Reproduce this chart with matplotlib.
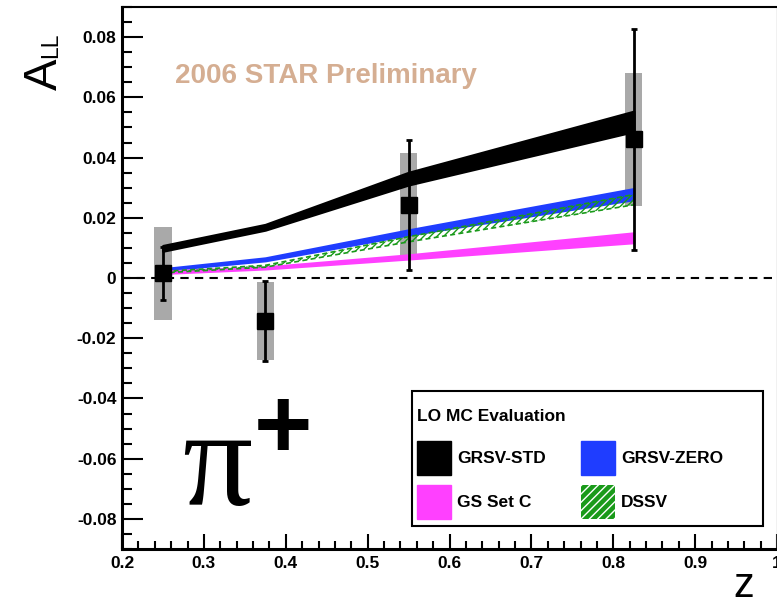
#!/usr/bin/ python
# -*- coding: utf-8 -*-

import matplotlib
matplotlib.use('Agg')
import matplotlib.pyplot as plt
import matplotlib.ticker as ticker
from matplotlib.patches import Patch, Rectangle

# measured points (pi+ A_LL vs z)
z = [0.25, 0.375, 0.55, 0.825]
a_ll = [0.0015, -0.0142, 0.0242, 0.046]
stat_err = [0.0088, 0.0133, 0.0217, 0.0367]
syst_err = [0.0155, 0.013, 0.0172, 0.022]

# LO MC evaluation bands (lower / upper edges at each z)
std_lo = [0.0090, 0.0160, 0.0310, 0.0487]
std_hi = [0.0107, 0.0177, 0.0350, 0.0553]
zero_lo = [0.0025, 0.0057, 0.0143, 0.0260]
zero_hi = [0.0031, 0.0067, 0.0160, 0.0297]
gsc_lo = [0.0015, 0.0030, 0.0063, 0.0117]
gsc_hi = [0.0023, 0.0037, 0.0077, 0.0150]
dssv_lo = [0.0017, 0.0036, 0.0120, 0.0243]
dssv_hi = [0.0022, 0.0042, 0.0137, 0.0277]

band_labels = ['GRSV-STD', 'GS Set C', 'GRSV-ZERO', 'DSSV']

plt.rcParams['font.family'] = ['Liberation Sans', 'DejaVu Sans']

fig = plt.figure(figsize=(7.77, 6.01), dpi=100)
ax = fig.add_axes([122 / 777, 1 - 549 / 601, 655 / 777, 542 / 601])

# systematic boxes
box_w = 0.021
ax.bar(z, [2 * s for s in syst_err], width=box_w,
       bottom=[a - s for a, s in zip(a_ll, syst_err)],
       color='#a9a9a9', linewidth=0, zorder=1)

# theory bands
ax.fill_between(z, std_lo, std_hi, color='black', linewidth=2, zorder=3)
ax.fill_between(z, zero_lo, zero_hi, color='#1f3dff', edgecolor='#1f3dff',
                linewidth=1.5, zorder=3)
ax.fill_between(z, gsc_lo, gsc_hi, color='#ff40ff', edgecolor='#ff40ff',
                linewidth=1.5, zorder=3)
ax.fill_between(z, dssv_lo, dssv_hi, facecolor='none', edgecolor='#1a9a1a',
                hatch='/////', linewidth=1.2, linestyle=(0, (3, 2)), zorder=3)

ax.axhline(0, color='black', linestyle=(0, (4, 3)), linewidth=1.5, zorder=2)

# data points with statistical errors
ax.errorbar(z, a_ll, yerr=stat_err, fmt='s', color='black', markersize=11,
            elinewidth=2, capsize=2, capthick=2, zorder=5)

ax.set_xlim(0.2, 1.0)
ax.set_ylim(-0.09, 0.09)
ax.xaxis.set_major_locator(ticker.MultipleLocator(0.1))
ax.xaxis.set_minor_locator(ticker.MultipleLocator(0.02))
ax.yaxis.set_major_locator(ticker.MultipleLocator(0.02))
ax.yaxis.set_minor_locator(ticker.MultipleLocator(0.005))
fmt = ticker.FuncFormatter(lambda v, p: '%g' % round(v, 6))
ax.xaxis.set_major_formatter(fmt)
ax.yaxis.set_major_formatter(fmt)
ax.tick_params(which='both', direction='in', top=False, right=False,
               width=1.5, labelsize=12.5)
ax.tick_params(axis='x', which='major', length=11, pad=5)
ax.tick_params(axis='x', which='minor', length=6)
ax.tick_params(axis='y', which='major', length=15, pad=4)
ax.tick_params(axis='y', which='minor', length=7.5)
for lab in ax.get_xticklabels() + ax.get_yticklabels():
    lab.set_fontweight('bold')

for side in ['left', 'bottom']:
    ax.spines[side].set_linewidth(2.2)
ax.spines['top'].set_linewidth(1.5)
ax.spines['right'].set_linewidth(1)
ax.spines['right'].set_color('#bbbbbb')

# axis titles
fig.text(57 / 777, 1 - 90 / 601, 'A', rotation=90, rotation_mode='anchor',
         ha='left', va='baseline', fontsize=34)
fig.text(57 / 777, 1 - 58 / 601, 'LL', rotation=90, rotation_mode='anchor',
         ha='left', va='baseline', fontsize=16.5)
fig.text(733 / 777, 1 - 597 / 601, 'z', ha='left', va='baseline', fontsize=30)

ax.text(0.081, 0.86, '2006 STAR Preliminary', transform=ax.transAxes,
        fontsize=20, fontweight='bold', color='#d5ae92', va='baseline')

# pi+ label
ax.text(0.092, 0.081, '\u03c0', transform=ax.transAxes, fontsize=100,
        family='Liberation Serif', va='baseline', ha='left')
ax.text(0.246, 0.216, '+', transform=ax.transAxes, fontsize=72,
        fontweight='bold', va='center', ha='center')

# legend: fixed-size frame like the original, entries placed inside it
ax.add_patch(Rectangle((0.4427, 0.0424), 0.5359, 0.2491,
                       transform=ax.transAxes, facecolor='white',
                       edgecolor='black', linewidth=1.5, zorder=6))
ax.text(0.4504, 0.2362, 'LO MC Evaluation', transform=ax.transAxes,
        fontsize=12.5, fontweight='bold', va='baseline', ha='left', zorder=7)
handles = [Patch(facecolor='black', edgecolor='black'),
           Patch(facecolor='#ff40ff', edgecolor='#ff40ff'),
           Patch(facecolor='#1f3dff', edgecolor='#1f3dff'),
           Patch(facecolor='#1a9a1a', edgecolor='white', hatch='////',
                 linewidth=0)]
leg = ax.legend(handles, band_labels, ncol=2,
                loc='upper left', bbox_to_anchor=(0.4504, 0.1993),
                borderaxespad=0, borderpad=0, frameon=False,
                fontsize=12.5,
                handlelength=1.95, handleheight=2.63, handletextpad=0.35,
                labelspacing=0.57, columnspacing=2.05)
for t in leg.get_texts():
    t.set_fontweight('bold')
leg.set_zorder(7)

plt.savefig('out.png', dpi=100)
